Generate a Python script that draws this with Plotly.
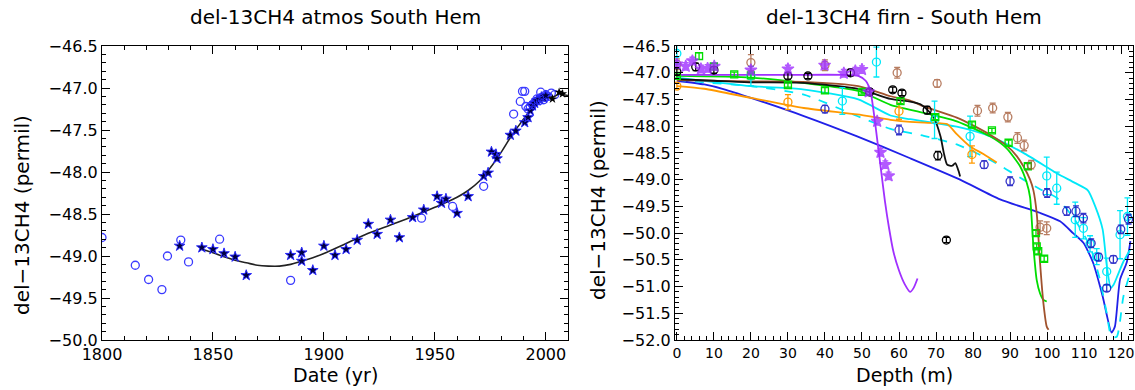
import plotly.graph_objects as go

# ---------------- Left panel: atmospheric record ----------------
circ_year = [1800, 1815, 1821, 1827, 1829.5, 1835.5, 1839, 1853, 1885, 1944, 1958, 1972,
             1985.5, 1988.5, 1989.5, 1990.5, 1991, 1992, 1993, 1994, 1995, 1996, 1997,
             1997.7, 1999, 2000, 2001, 2002.5, 2004]
circ_val = [-48.78, -49.11, -49.28, -49.40, -49.00, -48.81, -49.07, -48.80, -49.29, -48.55,
            -48.41, -48.17, -47.31, -47.16, -47.04, -47.04, -47.22, -47.25, -47.22, -47.20,
            -47.17, -47.13, -47.15, -47.05, -47.14, -47.08, -47.10, -47.06, -47.08]

star_year = [1835, 1845, 1850, 1855, 1860, 1865, 1885, 1890, 1890, 1895, 1900, 1905, 1910,
             1915, 1920, 1924, 1930, 1934, 1940, 1945, 1951, 1953, 1955, 1960, 1965, 1972,
             1974, 1975.5, 1977.5, 1978, 1984, 1986.5, 1990.5, 1992, 1993, 1994, 1995, 1996,
             1997, 1998, 1999, 2000]
star_val = [-48.88, -48.90, -48.92, -48.97, -49.01, -49.23, -48.99, -48.96, -49.06, -49.17,
            -48.88, -48.99, -48.92, -48.81, -48.62, -48.74, -48.57, -48.78, -48.54, -48.45,
            -48.29, -48.37, -48.32, -48.49, -48.29, -48.05, -48.01, -47.76, -47.79, -47.84,
            -47.56, -47.51, -47.41, -47.35, -47.27, -47.21, -47.18, -47.15, -47.13, -47.11,
            -47.12, -47.09]

recent_year = [2003, 2006, 2007.5]
recent_val = [-47.13, -47.05, -47.07]

fit_year = [1845, 1850, 1855, 1860, 1865, 1870, 1875, 1880, 1885, 1890, 1895, 1900, 1910,
            1920, 1930, 1940, 1950, 1960, 1965, 1970, 1975, 1980, 1985, 1990, 1993, 1995,
            1997, 1998.5, 2000, 2002, 2004, 2006, 2008, 2010]
fit_val = [-48.92, -48.96, -49.01, -49.05, -49.08, -49.11, -49.12, -49.12, -49.10, -49.06,
           -49.02, -48.97, -48.85, -48.73, -48.63, -48.53, -48.42, -48.30, -48.22, -48.11,
           -47.95, -47.76, -47.55, -47.37, -47.26, -47.19, -47.11, -47.08, -47.10, -47.11,
           -47.10, -47.07, -47.08, -47.09]

# ---------------- Right panel: firn profiles ----------------
purple_line_d = [0, 10, 30, 45, 49, 51, 52.3, 53.2, 54.2, 55.2, 56.2, 57.3, 58.5, 60, 61.5, 63, 64, 65]
purple_line_v = [-47.04, -47.04, -47.04, -47.04, -47.06, -47.15, -47.35, -47.75, -48.30, -48.85,
                 -49.40, -49.90, -50.35, -50.70, -50.95, -51.10, -51.02, -50.85]

black_line_d = [0, 10, 20, 34, 49, 57.7, 63, 65.8, 67.6, 69.4, 71.2, 72.1, 73, 74.4, 75.2, 76.1, 76.5]
black_line_v = [-47.12, -47.15, -47.18, -47.19, -47.30, -47.49, -47.54, -47.59, -47.69, -47.84,
                -48.19, -48.50, -48.72, -48.74, -48.69, -48.84, -48.94]

brown_line_d = [0, 20, 34, 49, 57.7, 63, 66.7, 75.6, 80.1, 84.6, 89, 91.8, 93.6, 95.4, 96.3,
                97.2, 98.1, 99, 99.9, 100.4]
brown_line_v = [-47.14, -47.16, -47.17, -47.25, -47.44, -47.52, -47.63, -47.84, -47.99, -48.16,
                -48.36, -48.56, -48.75, -49.00, -49.20, -49.63, -50.56, -51.31, -51.75, -51.81]

green_line_d = [0, 20, 34, 49, 57.7, 66.7, 75.6, 84.6, 89, 92.7, 94.5, 95.4, 96.3, 97.2, 98.1, 99, 99.9]
green_line_v = [-47.06, -47.09, -47.19, -47.34, -47.60, -47.75, -47.91, -48.19, -48.41, -48.75,
                -49.06, -49.33, -50.25, -50.88, -51.13, -51.25, -51.28]

orange_line_d = [0, 7.4, 20, 34.3, 48.7, 57.7, 63, 69.4, 73, 75.6, 79.2, 82.8, 86.4]
orange_line_v = [-47.25, -47.30, -47.47, -47.66, -47.78, -47.88, -47.92, -47.94, -47.96, -48.15,
                 -48.38, -48.52, -48.68]

cyan_line_d = [0, 20, 34, 49, 57.7, 63, 75.6, 84.6, 93.6, 102.6, 107.5, 111, 113, 115, 116.1,
               117.2, 118, 119, 120.5, 122.5]
cyan_line_v = [-47.09, -47.25, -47.31, -47.50, -47.80, -47.87, -48.01, -48.19, -48.50, -48.88,
               -49.06, -49.20, -49.50, -49.93, -50.60, -51.02, -50.96, -50.80, -50.55, -50.30]

cyan_dash_d = [0, 7.4, 20, 34.3, 48.7, 57.7, 66.7, 75.6, 84.6, 93.6, 98.1, 102.6, 107.5, 111.6,
               114.3, 116.1, 117.4, 118.8, 120.6, 122.4]
cyan_dash_v = [-47.13, -47.18, -47.25, -47.41, -47.81, -48.05, -48.18, -48.34, -48.63, -49.00,
               -49.18, -49.34, -49.75, -50.25, -50.88, -51.50, -51.94, -51.94, -51.19, -50.75]

blue_line_d = [0, 7.4, 12.8, 20, 34.3, 48.7, 63, 76.5, 87.3, 98, 103.5, 107, 109.8, 112.4, 115,
               117.4, 118.3, 119.7, 121.5, 122.5]
blue_line_v = [-47.15, -47.22, -47.31, -47.47, -47.81, -48.19, -48.60, -49.00, -49.37, -49.62,
               -49.78, -50.00, -50.18, -50.55, -51.18, -51.86, -51.75, -50.87, -50.55, -50.15]

# firn data points
black_pt_d = [0, 5.1, 10, 30, 35.4, 46.9, 52.1, 58.3, 60.8, 67.6, 70.5, 72.8]
black_pt_v = [-46.98, -46.89, -46.95, -47.06, -47.06, -47.00, -47.36, -47.32, -47.38, -47.70, -48.55, -50.13]
black_pt_e = [0.06, 0.07, 0.06, 0.06, 0.05, 0.06, 0.06, 0.05, 0.05, 0.07, 0.08, 0.05]

brown_pt_d = [0, 20, 40, 59.5, 70.3, 81.2, 85.3, 89.4, 92, 93.8, 95.7, 98.1, 99.9]
brown_pt_v = [-46.84, -46.81, -46.86, -47.00, -47.20, -47.71, -47.66, -47.83, -48.22, -48.36,
              -48.72, -49.89, -49.91]
brown_pt_e = [0.10, 0.15, 0.10, 0.10, 0.07, 0.10, 0.09, 0.09, 0.10, 0.10, 0.08, 0.12, 0.12]

green_pt_d = [0, 6, 10, 15.5, 20, 30, 40, 50, 60.4, 69.8, 79.7, 85.1, 89.6, 94.8, 97.0, 97.2, 97.6, 99.2]
green_pt_v = [-47.06, -46.69, -46.88, -47.03, -47.05, -47.23, -47.33, -47.36, -47.53, -47.83,
              -47.97, -48.08, -48.31, -48.75, -50.00, -50.25, -50.34, -50.48]
green_pt_e = [0.04, 0.06, 0.05, 0.04, 0.04, 0.04, 0.05, 0.04, 0.05, 0.05, 0.05, 0.04, 0.05, 0.05,
              0.05, 0.05, 0.05, 0.05]

orange_pt_d = [0, 30, 60, 79.7]
orange_pt_v = [-47.25, -47.55, -47.72, -48.53]
orange_pt_e = [0.05, 0.14, 0.15, 0.16]

cyan_pt_d = [0, 20, 44.7, 53.9, 69.6, 79.2, 99.9, 102.6, 107.6, 109.8, 111.6, 113.4, 116.1, 119.7, 121.7]
cyan_pt_v = [-46.64, -47.06, -47.53, -46.80, -47.88, -48.19, -48.93, -49.16, -49.75, -49.91,
             -50.20, -50.44, -50.72, -50.03, -49.69]
cyan_pt_e = [0.20, 0.18, 0.25, 0.28, 0.35, 0.38, 0.35, 0.30, 0.33, 0.20, 0.15, 0.15, 0.25, 0.45, 0.35]

blue_pt_d = [40, 60, 83, 90, 100, 105.3, 107.8, 109.8, 111.9, 113.9, 116.1, 117.9, 119.9, 122]
blue_pt_v = [-47.68, -48.07, -48.72, -49.03, -49.25, -49.59, -49.59, -49.72, -50.19, -50.45,
             -51.03, -50.49, -49.93, -49.74]
blue_pt_e = [0.07, 0.09, 0.07, 0.08, 0.08, 0.08, 0.10, 0.09, 0.08, 0.07, 0.06, 0.07, 0.08, 0.09]

purple_pt_d = [0, 2.4, 4.2, 6.5, 8.3, 10.1, 20, 30, 39.9, 45.1, 48.2, 50, 51.8, 54.1, 55, 56.3, 57.2]
purple_pt_v = [-46.84, -46.88, -46.78, -46.93, -46.92, -46.88, -46.95, -46.93, -46.86, -47.01,
               -46.97, -46.94, -47.36, -47.91, -48.49, -48.72, -48.93]
purple_pt_e = [0.07] * len(purple_pt_d)

FONT = "DejaVu Sans"
BLACK = "#000000"
PURPLE = "#a030ff"
BROWN = "#a0522d"
GREEN = "#00dd00"
ORANGE = "#ff9900"
CYAN = "#00e8f8"
BLUE = "#2020e8"
DBLUE = "#1010c0"

fig = go.Figure()

# left panel
fig.add_trace(go.Scatter(x=circ_year, y=circ_val, mode="markers",
                         marker=dict(symbol="circle-open", size=8, color="#3a3aff", line=dict(width=1.3)),
                         xaxis="x", yaxis="y", showlegend=False))
fig.add_trace(go.Scatter(x=fit_year, y=fit_val, mode="lines", line=dict(color="#222222", width=1.6, shape="spline"),
                         xaxis="x", yaxis="y", showlegend=False))
fig.add_trace(go.Scatter(x=star_year, y=star_val, mode="markers",
                         marker=dict(symbol="star", size=8, color="#000040", line=dict(color="#2a2aff", width=1)),
                         xaxis="x", yaxis="y", showlegend=False))
fig.add_trace(go.Scatter(x=recent_year, y=recent_val, mode="markers",
                         marker=dict(symbol="star", size=7, color="#000000"),
                         xaxis="x", yaxis="y", showlegend=False))


def add_line(d, v, color, dash="solid", width=1.8):
    fig.add_trace(go.Scatter(x=d, y=v, mode="lines", line=dict(color=color, width=width, dash=dash, shape="spline",
                                                               smoothing=0.6),
                             xaxis="x2", yaxis="y2", showlegend=False))


def add_pts(d, v, e, color, symbol="circle-open", size=8, opacity=1.0, fill=None):
    mk = dict(symbol=symbol, size=size, color=fill if fill else color, line=dict(color=color, width=1.3))
    fig.add_trace(go.Scatter(x=d, y=v, mode="markers", marker=mk, opacity=opacity,
                             error_y=dict(type="data", array=e, color=color, thickness=1.3, width=3),
                             xaxis="x2", yaxis="y2", showlegend=False))


add_line(blue_line_d, blue_line_v, BLUE)
add_line(cyan_line_d, cyan_line_v, CYAN)
add_line(cyan_dash_d, cyan_dash_v, CYAN, dash="dash")
add_line(orange_line_d, orange_line_v, ORANGE)
add_line(green_line_d, green_line_v, GREEN)
add_line(brown_line_d, brown_line_v, BROWN)
add_line(black_line_d, black_line_v, "#111111")
add_line(purple_line_d, purple_line_v, PURPLE)

add_pts(cyan_pt_d, cyan_pt_v, cyan_pt_e, CYAN)
add_pts(orange_pt_d, orange_pt_v, orange_pt_e, ORANGE)
add_pts(green_pt_d, green_pt_v, green_pt_e, GREEN, symbol="square-open", size=7)
add_pts(brown_pt_d, brown_pt_v, brown_pt_e, BROWN, opacity=0.75)
add_pts(blue_pt_d, blue_pt_v, blue_pt_e, DBLUE, opacity=0.85)
add_pts(black_pt_d, black_pt_v, black_pt_e, BLACK)
add_pts(purple_pt_d, purple_pt_v, purple_pt_e, PURPLE, symbol="star", size=9, opacity=0.8, fill=PURPLE)

W, H = 1135, 390
Lx = [102 / W, 568 / W]
Rx = [675 / W, 1133 / W]
Yd = [1 - 340 / H, 1 - 46 / H]


def axis_style(size):
    return dict(showgrid=False, zeroline=False, showline=True, linecolor="black", linewidth=1.3,
                mirror="ticks", ticks="inside", ticklen=8, tickwidth=1.2, tickcolor="black",
                automargin=False, ticklabeloverflow="allow",
                tickfont=dict(family=FONT, size=size, color="black"))


fig.update_layout(
    width=W, height=H, margin=dict(l=0, r=0, t=0, b=0, autoexpand=False),
    paper_bgcolor="white", plot_bgcolor="white",
    xaxis=dict(domain=Lx, anchor="y", range=[1800, 2010], tickvals=[1800, 1850, 1900, 1950, 2000],
               minor=dict(dtick=10, tick0=1800, ticks="inside", ticklen=4, tickcolor="black"), **axis_style(16)),
    yaxis=dict(domain=Yd, anchor="x", range=[-50.0, -46.5], dtick=0.5, tick0=-50, tickformat=".1f",
               minor=dict(dtick=0.1, tick0=-50, ticks="inside", ticklen=4, tickcolor="black"), **axis_style(16)),
    xaxis2=dict(domain=Rx, anchor="y2", range=[-0.5, 123.2], dtick=10, tick0=0,
                minor=dict(dtick=2, tick0=0, ticks="inside", ticklen=4, tickcolor="black"), **axis_style(14)),
    yaxis2=dict(domain=Yd, anchor="x2", range=[-52.0, -46.5], dtick=0.5, tick0=-52, tickformat=".1f",
                minor=dict(dtick=0.1, tick0=-52, ticks="inside", ticklen=4, tickcolor="black"), **axis_style(16)),
)

ann = [
    dict(text="del-13CH4 atmos South Hem", x=335, y=H - 17, size=20),
    dict(text="del-13CH4 firn - South Hem", x=904, y=H - 17, size=20),
    dict(text="Date (yr)", x=335, y=H - 375, size=19),
    dict(text="Depth (m)", x=904, y=H - 375, size=19),
    dict(text="del\u221213CH4 (permil)", x=22, y=H - 215, textangle=-90, size=20),
    dict(text="del\u221213CH4 (permil)", x=598, y=H - 200, textangle=-90, size=20),
]
for a in ann:
    fig.add_annotation(text=a["text"], x=a["x"] / W, y=a["y"] / H, xref="paper", yref="paper",
                       showarrow=False, textangle=a.get("textangle", 0), xanchor="center", yanchor="middle",
                       font=dict(family=FONT, size=a["size"], color="black"))

fig.write_html("out.html", config={"displayModeBar": False},
               post_script="document.body.style.margin='0';document.body.style.overflow='hidden';")
